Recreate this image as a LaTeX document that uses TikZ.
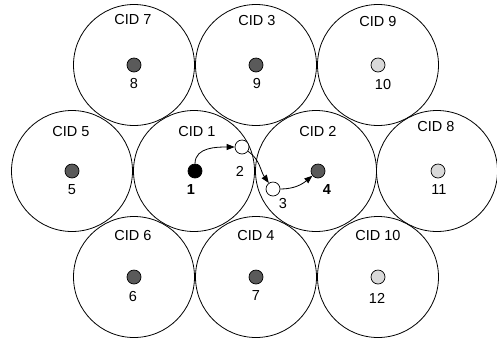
\documentclass[tikz,border=0pt]{standalone}
\usepackage{fontspec}
\setmainfont{Liberation Sans}
\usetikzlibrary{arrows.meta}
\definecolor{darkdot}{HTML}{5A5A5A}
\definecolor{lightdot}{HTML}{D9D9D9}
\begin{document}
\begin{tikzpicture}[x=1pt,y=-1pt,
  font=\fontsize{14.5}{16}\selectfont,
  cell/.style={circle,draw,line width=0.8pt,minimum size=121pt,inner sep=0pt},
  dot/.style={circle,draw,line width=0.7pt,minimum size=14pt,inner sep=0pt},
  dkdot/.style={dot,fill=darkdot},
  ltdot/.style={dot,fill=lightdot},
  bkdot/.style={dot,fill=black},
  wtdot/.style={dot,fill=white},
  lbl/.style={inner sep=0pt},
  arr/.style={line width=0.8pt,-{Triangle[length=8pt,width=6pt]}}
]
\useasboundingbox (0,0) rectangle (497,341);

% cells (hexagonal packing)
\node[cell] (c7)  at (134,65)  {};
\node[cell] (c3)  at (256,65)  {};
\node[cell] (c9)  at (378,65)  {};
\node[cell] (c5)  at (72,171)  {};
\node[cell] (c1)  at (194,171) {};
\node[cell] (c2)  at (316,171) {};
\node[cell] (c8)  at (437,171) {};
\node[cell] (c6)  at (134,277) {};
\node[cell] (c4)  at (256,277) {};
\node[cell] (c10) at (378,277) {};

% cell identifiers
\node[lbl] (t7)  at (133,20)  {CID 7};
\node[lbl] (t3)  at (257,21)  {CID 3};
\node[lbl] (t9)  at (378,22)  {CID 9};
\node[lbl] (t5)  at (71,132)  {CID 5};
\node[lbl] (t1)  at (197,132) {CID 1};
\node[lbl] (t2)  at (318,132) {CID 2};
\node[lbl] (t8)  at (436,127) {CID 8};
\node[lbl] (t6)  at (133,235) {CID 6};
\node[lbl] (t4)  at (256,235) {CID 4};
\node[lbl] (t10) at (378,235) {CID 10};

% stations
\node[dkdot] (d8)  at (134,65)  {};
\node[dkdot] (d9)  at (256,65)  {};
\node[ltdot] (d10) at (378,65)  {};
\node[dkdot] (d5)  at (72,171)  {};
\node[bkdot] (p1)  at (195,171) {};
\node[wtdot] (p2)  at (242,147) {};
\node[wtdot] (p3)  at (273,189) {};
\node[dkdot] (p4)  at (318,171) {};
\node[ltdot] (d11) at (438,171) {};
\node[dkdot] (d6)  at (134,277) {};
\node[dkdot] (d7)  at (256,277) {};
\node[ltdot] (d12) at (378,277) {};

% station numbers
\node[lbl] (n8)  at (134,84)  {8};
\node[lbl] (n9)  at (257,84)  {9};
\node[lbl] (n10) at (383,85)  {10};
\node[lbl] (n5)  at (72,190)  {5};
\node[lbl] (n1)  at (191,190) {\bfseries 1};
\node[lbl] (n2)  at (240,171) {2};
\node[lbl] (n3)  at (283,204) {3};
\node[lbl] (n4)  at (327,190) {\bfseries 4};
\node[lbl] (n11) at (439,190) {11};
\node[lbl] (n6)  at (133,296) {6};
\node[lbl] (n7)  at (256,296) {7};
\node[lbl] (n12) at (377,298) {12};

% route
\draw[arr] (p1) to[out=90,in=180] (p2);
\draw[arr] (p2) to[out=-35,in=125] (p3);
\draw[arr] (p3) to[out=0,in=-140] (p4);
\end{tikzpicture}
\end{document}
